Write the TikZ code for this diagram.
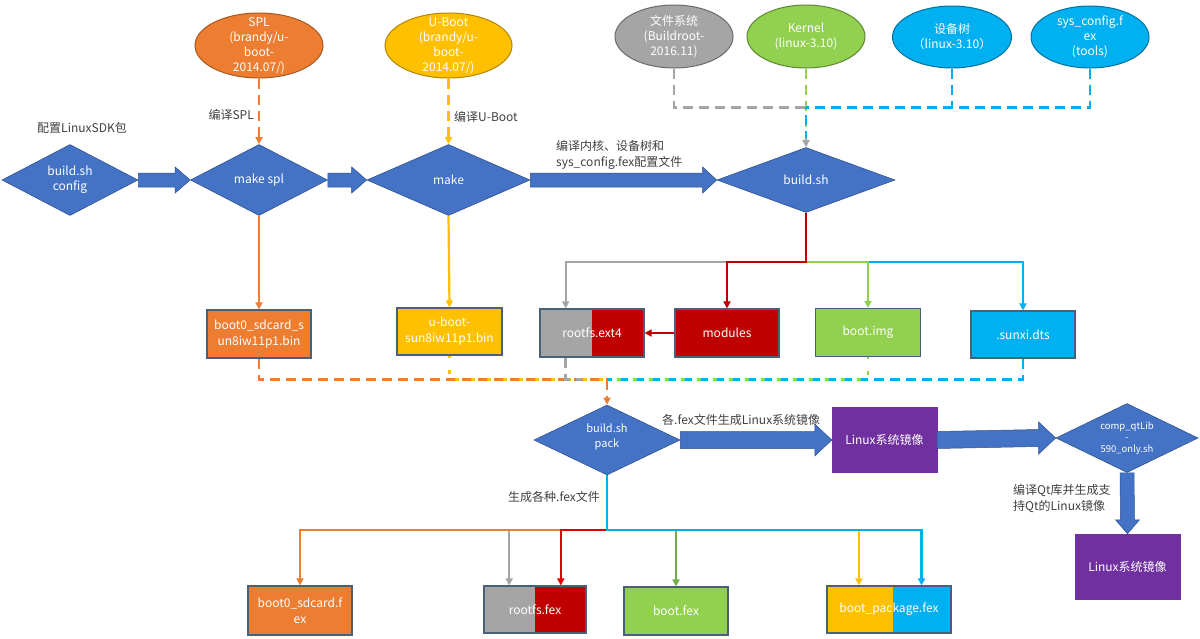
\documentclass[tikz,border=0pt]{standalone}
\usepackage{fontspec}
\setmainfont{Noto Sans CJK SC}
\usetikzlibrary{shapes.geometric,arrows.meta,calc}
\definecolor{cOr}{HTML}{ED7D31}
\definecolor{cYe}{HTML}{FFC000}
\definecolor{cGr}{HTML}{A5A5A5}
\definecolor{cGn}{HTML}{92D050}
\definecolor{cGnL}{HTML}{70AD47}
\definecolor{cBl}{HTML}{00B0F0}
\definecolor{cDia}{HTML}{4472C4}
\definecolor{cDiaD}{HTML}{2F528F}
\definecolor{cRd}{HTML}{C00000}
\definecolor{cRdL}{HTML}{E00000}
\definecolor{cPu}{HTML}{7030A0}
\definecolor{cBord}{HTML}{4A6076}
\definecolor{cTxt}{HTML}{404040}
\newcommand\myharrow[5]{%
  \filldraw[barrow] ($(#1.east)+(0,-#3)$) -- ($(#2.west)+(-#5,-#3)$) -- ($(#2.west)+(-#5,-#4)$) -- (#2.west) -- ($(#2.west)+(-#5,#4)$) -- ($(#2.west)+(-#5,#3)$) -- ($(#1.east)+(0,#3)$) -- cycle;}
\newcommand\myvarrow[5]{%
  \filldraw[barrow] ($(#1.south)+(-#3,0)$) -- ($(#2.north)+(-#3,-#5)$) -- ($(#2.north)+(-#4,-#5)$) -- (#2.north) -- ($(#2.north)+(#4,-#5)$) -- ($(#2.north)+(#3,-#5)$) -- ($(#1.south)+(#3,0)$) -- cycle;}
\begin{document}
\begin{tikzpicture}[x=1pt,y=-1pt,
  ell/.style={ellipse, inner sep=0, minimum width=128, minimum height=65, line width=1},
  wt/.style={text=white, align=center, inner sep=0, font=\fontsize{12}{15}\selectfont},
  wts/.style={text=white, align=center, inner sep=0, font=\fontsize{9.5}{11.5}\selectfont},
  dia/.style={diamond, fill=cDia, draw=cDiaD, line width=0.6, inner sep=0},
  box/.style={rectangle, draw=cBord, line width=1.2, minimum width=104, minimum height=48, inner sep=0, text=white, align=center, font=\fontsize{12}{16}\selectfont},
  pbox/.style={rectangle, fill=cPu, draw=cPu, minimum width=105, minimum height=65, inner sep=0, text=white, font=\fontsize{12}{15}\selectfont},
  lbl/.style={text=cTxt, inner sep=0, font=\fontsize{12}{16}\selectfont},
  barrow/.style={fill=cDia, draw=cDiaD, line width=0.5},
  con/.style={line width=2.2, -{Triangle[length=7pt,width=7pt]}},
  dsh/.style={line width=2.8, dash pattern=on 10pt off 6pt},
  dsh2/.style={line width=2.8, dash pattern=on 10pt off 6pt, dash phase=8pt},
  dsh3/.style={line width=2.8, dash pattern=on 4pt off 12pt, dash phase=2pt},
  tip/.style={-{Triangle[length=7pt,width=7pt]}}
]
\useasboundingbox (0,0) rectangle (1200,638);
\fill[white] (0,0) rectangle (1200,638);

% ellipses
\node[ell, fill=cOr, draw=cOr!70!black] (spl) at (259,45.5) {};
\node[wt] (splT) at (spl) {SPL\\(brandy/u-\\boot-\\2014.07/)};
\node[ell, fill=cYe, draw=cYe!70!black, minimum width=127] (ub) at (448.5,45.5) {};
\node[wt] (ubT) at (ub) {U-Boot\\(brandy/u-\\boot-\\2014.07/)};
\node[ell, fill=cGr, draw=cGr!65!black, minimum width=118, minimum height=63] (fs) at (674,36.5) {};
\node[wt] (fsT) at (fs) {文件系统\\(Buildroot-\\2016.11)};
\node[ell, fill=cGn, draw=cGn!65!black, minimum width=118, minimum height=63] (kern) at (806,36.5) {};
\node[wt] (kernT) at (kern) {Kernel\\(linux-3.10)};
\node[ell, fill=cBl, draw=cBl!65!black, minimum width=119, minimum height=62] (dt) at (952,37) {};
\node[wt] (dtT) at (dt) {设备树\\（linux-3.10）};
\node[ell, fill=cBl, draw=cBl!65!black, minimum width=118, minimum height=62] (sc) at (1090,37) {};
\node[wt] (scT) at (sc) {sys\_config.f\\ex\\(tools)};

% diamonds
\node[dia, minimum width=136, minimum height=71] (cfg) at (70,180) {};
\node[wt] (cfgT) at (cfg) {build.sh\\config};
\node[dia, minimum width=137, minimum height=71] (mspl) at (259,180) {};
\node[wt] (msplT) at (mspl) {make spl};
\node[dia, minimum width=163, minimum height=71] (mk) at (448.5,180) {};
\node[wt] (mkT) at (mk) {make};
\node[dia, minimum width=178, minimum height=65] (bs) at (806,180) {};
\node[wt] (bsT) at (bs) {build.sh};
\node[dia, minimum width=146, minimum height=70] (pack) at (607,440) {};
\node[wt, font=\fontsize{11}{15}\selectfont] (packT) at ($(pack)+(0,-3)$) {build.sh\\pack};
\node[dia, minimum width=142, minimum height=69] (qt) at (1127,438) {};
\node[wts] (qtT) at (qt) {comp\_qtLib\\-\\590\_only.sh};

% boxes, middle row
\node[box, fill=cOr] (bin0) at (259,334) {boot0\_sdcard\_s\\un8iw11p1.bin};
\node[box, fill=cYe, minimum width=105, minimum height=47] (ubin) at (449.5,331.5) {u-boot-\\sun8iw11p1.bin};
\node[box, path picture={\fill[cGr] (path picture bounding box.north west) rectangle (path picture bounding box.south);
  \fill[cRd] (path picture bounding box.north) rectangle (path picture bounding box.south east);}] (rootfs) at (592,333) {rootfs.ext4};
\node[box, fill=cRd] (modules) at (727,333) {modules};
\node[box, fill=cGn, minimum width=105] (bootimg) at (868,332.5) {boot.img};
\node[box, fill=cBl, minimum height=47] (sunxi) at (1023,334.5) {.sunxi.dts};

% purple boxes
\node[pbox] (lin1) at (884.5,440) {Linux系统镜像};
\node[pbox] (lin2) at (1127.5,566.5) {Linux系统镜像};

% bottom boxes
\node[box, fill=cOr, minimum height=49] (b0fex) at (300,610.5) {boot0\_sdcard.f\\ex};
\node[box, minimum width=102, minimum height=47, path picture={\fill[cGr] (path picture bounding box.north west) rectangle (path picture bounding box.south);
  \fill[cRd] (path picture bounding box.north) rectangle (path picture bounding box.south east);}] (rfex) at (535,609.5) {rootfs.fex};
\node[box, fill=cGn] (bfex) at (676,611) {boot.fex};
\node[box, minimum width=124, minimum height=47, path picture={\fill[cYe] (path picture bounding box.north west) rectangle ($(path picture bounding box.south west)!0.53!(path picture bounding box.south east)$);
  \fill[cBl] ($(path picture bounding box.north west)!0.53!(path picture bounding box.north east)$) rectangle (path picture bounding box.south east);}] (bpfex) at (889,609.5) {boot\_package.fex};

% text labels
\node[lbl] (lcfg) at (82,128) {配置LinuxSDK包};
\node[lbl, anchor=east] (lspl) at (254,115) {编译SPL};
\node[lbl, anchor=west] (lub) at (454,117) {编译U-Boot};
\node[lbl, anchor=west, align=left] (lker) at (556,155) {编译内核、设备树和\\sys\_config.fex配置文件};
\node[lbl, anchor=west] (lpk) at (662,420) {各.fex文件生成Linux系统镜像};
\node[lbl, anchor=west] (lgen) at (508,497) {生成各种.fex文件};
\node[lbl, anchor=west, align=left] (lqt) at (1013,499) {编译Qt库并生成支\\持Qt的Linux镜像};

% block arrows
\myharrow{cfg}{mspl}{7}{13}{15}
\myharrow{mspl}{mk}{7}{13}{15}
\myharrow{mk}{bs}{7}{13}{14}
\myharrow{pack}{lin1}{8.5}{16}{17}
\myharrow{lin1}{qt}{8.5}{16}{17}
\myvarrow{qt}{lin2}{7}{12}{14}

% dashed inputs to make spl / make
\draw[dsh, cOr] (spl.south) -- ($(mspl.north)+(0,-8)$);
\draw[cOr, line width=2.2, tip] ($(mspl.north)+(0,-9)$) -- (mspl.north);
\draw[dsh, cYe] (ub.south) -- ($(mk.north)+(0,-8)$);
\draw[cYe, line width=2.2, tip] ($(mk.north)+(0,-9)$) -- (mk.north);

% dashed inputs to build.sh
\coordinate (T) at ($(bs.north)+(0,-40)$);
\draw[dsh, cGn] (kern.south) -- (bs.north);
\draw[dsh, cGr] (fs.south) |- (T);
\draw[dsh, cBl] (sc.south) |- (T);
\draw[dsh, cBl] (dt.south) -- (dt.south |- T);
\draw[dsh2, cBl] (T) -- ($(bs.north)+(0,-8)$);
\draw[cGr, line width=2.2, tip] ($(bs.north)+(0,-9)$) -- (bs.north);

% solid outputs
\draw[con, cOr] (mspl.south) -- (bin0.north);
\draw[con, cYe] (mk.south) -- (ubin.north);
\draw[con, cGr] (bs.south) -- ++(0,49) -| ($(rootfs.north west)!0.25!(rootfs.north east)$);
\draw[con, cBl] (bs.south) -- ++(0,49) -| (sunxi.north);
\draw[con, cGn] (bs.south) -- ++(0,49) -| (bootimg.north);
\draw[con, cRd] (bs.south) -- ++(0,49) -| (modules.north);
\draw[con, cRd] (modules.west) -- (rootfs.east);

% dashed merge to build.sh pack
\coordinate (M) at ($(pack.north)+(0,-25)$);
\draw[dsh, cBl] (sunxi.south) |- (M);
\draw[dsh3, cGn] (bootimg.south) |- (M);
\draw[dsh, cOr] (bin0.south) |- (M);
\draw[dsh3, cYe] (ubin.south) |- (M);
\draw[dsh, cGr] ($(rootfs.south west)!0.25!(rootfs.south east)$) |- ($(M)+(-25,0)$);
\draw[dsh, cOr] (M) -- ($(pack.north)+(0,-8)$);
\draw[cOr, line width=2.2, tip] ($(pack.north)+(0,-9)$) -- (pack.north);

% fan-out from build.sh pack
\draw[con, cGr] (pack.south) -- ++(0,55) -| ($(rfex.north west)!0.25!(rfex.north east)$);
\draw[con, cOr] (pack.south) -- ++(0,55) -| (b0fex.north);
\draw[con, cRdL] (pack.south) -- ++(0,55) -| ($(rfex.north west)!0.75!(rfex.north east)$);
\draw[con, cYe] (pack.south) -- ++(0,55) -| ($(bpfex.north west)!0.26!(bpfex.north east)$);
\draw[con, cGnL] (pack.south) -- ++(0,55) -| (bfex.north);
\draw[con, cBl] (pack.south) -- ++(0,55) -| ($(bpfex.north west)!0.76!(bpfex.north east)$);
\end{tikzpicture}
\end{document}
